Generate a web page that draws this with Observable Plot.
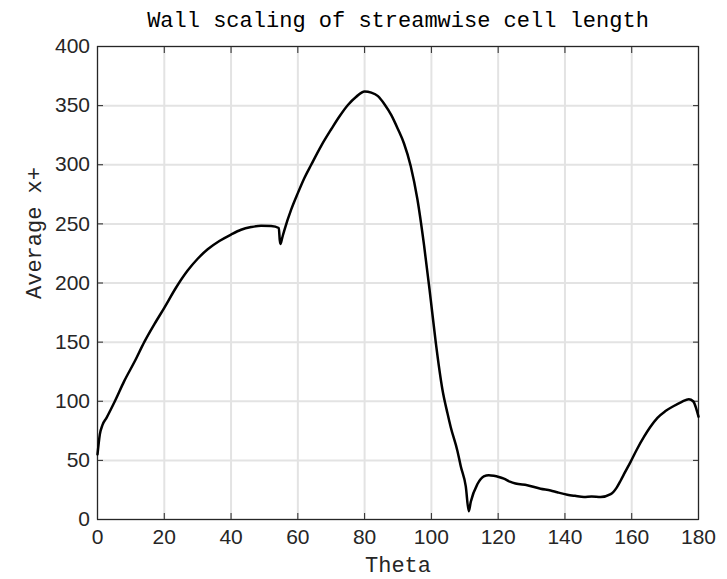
<!DOCTYPE html>
<html>
<head>
<meta charset="utf-8">
<script src="https://cdn.jsdelivr.net/npm/d3@7"></script>
<script src="https://cdn.jsdelivr.net/npm/@observablehq/plot@0.6"></script>
<style>
  html, body { margin: 0; padding: 0; background: #fff; }
  #chart svg { display: block; }
</style>
</head>
<body>
<div id="chart"></div>
<script>
const titleText = "Wall scaling of streamwise cell length";
const xLabel = "Theta";
const yLabel = "Average x+";
const xTicks = [0, 20, 40, 60, 80, 100, 120, 140, 160, 180];
const yTicks = [0, 50, 100, 150, 200, 250, 300, 350, 400];

const theta = [0, 0.7, 1.5, 2.7, 5.2, 8, 11.2, 14, 17, 20, 23.5, 27, 30, 33, 36.5, 40, 43, 46, 49, 52, 54.3, 54.6, 54.8, 55.3, 56, 58, 60, 62, 64, 67, 70, 72.5, 75, 77.5, 80, 82, 84, 86, 88, 90, 91.8, 93.8, 95.8, 97.8, 99.8, 101.3, 103.3, 104.8, 105.8, 107.8, 108.8, 110.3, 111.2, 111.8, 113.8, 115.7, 117.2, 118.7, 120.2, 121.7, 123.5, 125.2, 128.7, 132.7, 135.7, 137.7, 140.7, 143, 145.7, 148, 150.7, 153.7, 155.5, 156.7, 158, 159.7, 161.5, 163.7, 165.5, 167.7, 170, 172.6, 175, 177.1, 178.4, 179.3, 180];
const avgX = [55, 72, 80, 86, 100, 117, 134, 150, 165, 179, 196, 210.5, 220.5, 228.5, 235.5, 241, 245, 247.3, 248.5, 248.2, 246.5, 236, 233, 238, 245, 262, 276, 289, 300, 316, 330, 341, 350.5, 357.5, 362, 361, 358, 351, 342, 330, 318, 299, 271, 232, 186, 150, 110, 90, 78, 58, 45, 28, 7, 15, 30, 36.5, 37.5, 37, 36, 34.5, 32, 30.4, 29, 26, 24.5, 23, 21, 20, 19, 19.5, 19, 21.4, 27, 33, 40, 49, 59, 70, 78, 86, 91.5, 96, 99.5, 101.7, 100, 94, 87];

const data = theta.map((t, i) => ({theta: t, value: avgX[i]}));

const sansFont = "Liberation Sans, Arial, sans-serif";
const monoFont = "Liberation Mono, Courier New, monospace";

const chart = Plot.plot({
  width: 727,
  height: 579,
  marginLeft: 97,
  marginRight: 29,
  marginTop: 46,
  marginBottom: 60,
  style: {background: "#fff"},
  x: {domain: [0, 180]},
  y: {domain: [0, 400]},
  marks: [
    Plot.gridX(xTicks, {stroke: "#e3e3e3", strokeOpacity: 1, strokeWidth: 2}),
    Plot.gridY(yTicks, {stroke: "#e3e3e3", strokeOpacity: 1, strokeWidth: 2}),
    Plot.frame({stroke: "#262626", strokeWidth: 1.2}),
    Plot.axisX(xTicks, {anchor: "bottom", tickSize: -6, tickPadding: 16, label: null,
      fontSize: 21, fontFamily: sansFont, color: "#262626"}),
    Plot.axisX(xTicks, {anchor: "top", tickSize: -6, label: null, stroke: "#262626", fill: "none"}),
    Plot.axisY(yTicks, {anchor: "left", tickSize: -6, tickPadding: 13.5, label: null,
      fontSize: 21, fontFamily: sansFont, color: "#262626"}),
    Plot.axisY(yTicks, {anchor: "right", tickSize: -6, label: null, stroke: "#262626", fill: "none"}),
    Plot.line(data, {x: "theta", y: "value", stroke: "#000", strokeWidth: 2.5, strokeLinejoin: "round", curve: "monotone-x"}),
    Plot.text([titleText], {frameAnchor: "top", dy: -27, lineAnchor: "middle", fontSize: 22, fontFamily: monoFont, fill: "#000"}),
    Plot.text([xLabel], {frameAnchor: "bottom", dy: 45, lineAnchor: "middle", fontSize: 22, fontFamily: monoFont, fill: "#262626"}),
    Plot.text([yLabel], {frameAnchor: "left", dx: -64, dy: 16, rotate: -90, lineAnchor: "middle", fontSize: 22, fontFamily: monoFont, fill: "#262626"})
  ]
});

document.getElementById("chart").appendChild(chart);
</script>
</body>
</html>
